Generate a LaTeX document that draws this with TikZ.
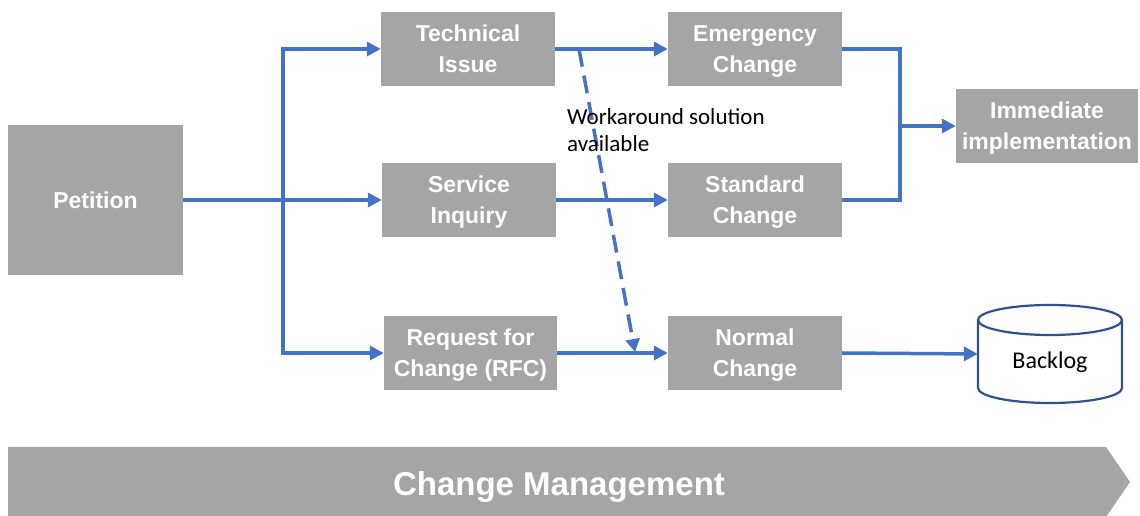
\documentclass[tikz,border=0pt]{standalone}
\usepackage{fontspec}
\setmainfont{Liberation Sans}
\newfontfamily\calib{Carlito}
\usetikzlibrary{arrows.meta,calc}
\definecolor{boxgray}{HTML}{A5A5A5}
\definecolor{flowblue}{HTML}{4472C4}
\definecolor{cylblue}{HTML}{2F528F}
\newcommand{\bs}{\rule[-5pt]{0pt}{26.5pt}}
\tikzset{
  gbox/.style={fill=boxgray, text=white, font=\bfseries\fontsize{23}{31}\selectfont, align=center, inner sep=0pt, minimum width=174pt, minimum height=74pt},
  conn/.style={draw=flowblue, line width=3.5pt},
  arr/.style={conn, -{Triangle[length=14pt,width=14pt]}},
  dasharr/.style={draw=flowblue, line width=3.5pt, dash pattern=on 18pt off 9pt, -{Triangle[length=13pt,width=14pt]}},
}
\begin{document}
\begin{tikzpicture}[x=1pt,y=1pt]
\useasboundingbox (0,0) rectangle (1140,516);
% boxes
\node[gbox, minimum width=175pt, minimum height=150pt] (pet) at (95.5,316) {\bs Petition};
\node[gbox] (tech) at (468,467) {\bs Technical\\\bs Issue};
\node[gbox] (serv) at (469,316) {\bs Service\\\bs Inquiry};
\node[gbox, minimum width=173pt] (rfc) at (470.5,163) {\bs Request for\\\bs Change (RFC)};
\node[gbox] (emer) at (755,467) {\bs Emergency\\\bs Change};
\node[gbox] (stan) at (755,316) {\bs Standard\\\bs Change};
\node[gbox] (norm) at (755,163) {\bs Normal\\\bs Change};
\node[gbox, minimum width=182pt] (imm) at (1047,390) {\bs Immediate\\\bs implementation};
% backlog cylinder
\node[minimum width=144pt, minimum height=98pt, inner sep=0pt] (back) at (1050,162) {};
\fill[white] (978,196) -- (978,128) arc[start angle=180,end angle=360,x radius=72pt,y radius=15pt] -- (1122,196) arc[start angle=0,end angle=180,x radius=72pt,y radius=15pt] -- cycle;
\draw[cylblue, line width=2.2pt] (978,196) -- (978,128) arc[start angle=180,end angle=360,x radius=72pt,y radius=15pt] -- (1122,196);
\draw[cylblue, line width=2.2pt] (1050,196) ellipse[x radius=72pt, y radius=15pt];
\node[font=\calib\fontsize{24}{28}\selectfont, inner sep=0pt] (backtxt) at (1050,154) {Backlog};
% connectors left
\coordinate (j1) at (283,316);
\draw[conn] (pet.east) -- (j1);
\draw[arr] (j1) |- (tech.west);
\draw[arr] (j1) -- (serv.west);
\draw[arr] (j1) |- (rfc.west);
% middle
\draw[arr] (tech.east) -- (emer.west);
\draw[arr] (serv.east) -- (stan.west);
\draw[arr] (rfc.east) -- (norm.west);
% right
\coordinate (j2) at (900,390);
\draw[conn] (emer.east) -| (j2);
\draw[conn] (stan.east) -| (j2);
\draw[arr] (j2) -- (imm.west);
\draw[arr] (norm.east) -- (back.west);
% dashed workaround
\coordinate (wa) at (579,467);
\coordinate (wb) at (635,164);
\draw[dasharr] (wa) -- (wb);
\node[font=\calib\fontsize{23}{27.5}\selectfont, align=left, anchor=north west, inner sep=0pt] (wtxt) at (567,408) {Workaround solution\\available};
% bottom chevron
\fill[boxgray] (8,-1) -- (8,69) -- (1106,69) -- (1130,34) -- (1106,-1) -- cycle;
\node[text=white, font=\bfseries\fontsize{33}{36}\selectfont, inner sep=0pt] (cm) at (559,29) {Change Management};
\end{tikzpicture}
\end{document}
